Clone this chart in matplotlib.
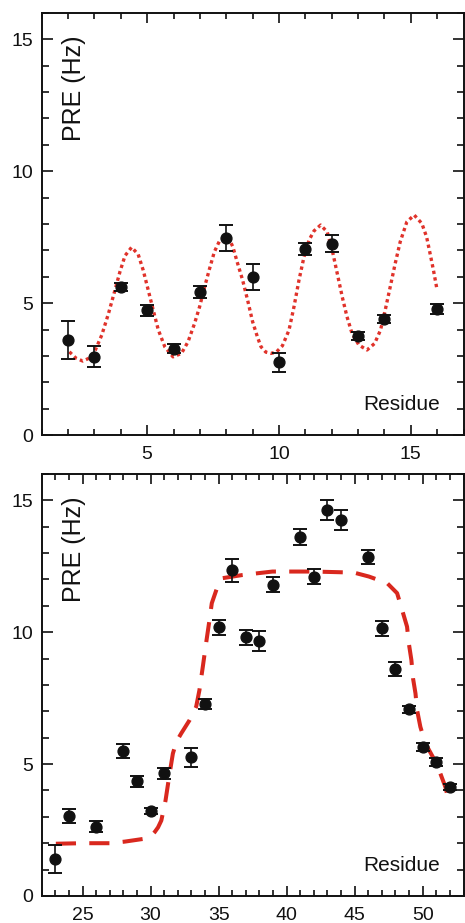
import matplotlib
matplotlib.use("Agg")
import matplotlib.pyplot as plt
from matplotlib.ticker import MultipleLocator

plt.rcParams['font.family'] = ['Liberation Sans', 'DejaVu Sans']

# ---- N-terminal helix (residues 2-16) ----
res_a = [2, 3, 4, 5, 6, 7, 8, 9, 10, 11, 12, 13, 14, 16]
pre_a = [3.61, 2.98, 5.60, 4.74, 3.28, 5.41, 7.48, 5.99, 2.76, 7.06, 7.26, 3.75, 4.39, 4.78]
err_a = [0.72, 0.40, 0.15, 0.21, 0.16, 0.23, 0.50, 0.48, 0.35, 0.23, 0.32, 0.16, 0.15, 0.18]

# periodic helix model curve
fit_a_x = [2.05, 2.30, 2.56, 2.80, 3.00, 3.28, 3.53, 3.78, 3.97, 4.16, 4.41, 4.66,
           4.85, 5.04, 5.23, 5.42, 5.67, 5.98, 6.30, 6.55, 6.80, 6.99, 7.18, 7.37,
           7.55, 7.74, 7.95, 8.10, 8.25, 8.43, 8.62, 8.81, 9.00, 9.19, 9.32, 9.50,
           9.69, 9.90, 10.13, 10.38, 10.57, 10.76, 10.95, 11.14, 11.33, 11.58, 11.83,
           12.02, 12.21, 12.40, 12.58, 12.77, 13.03, 13.34, 13.63, 13.85, 14.03,
           14.22, 14.41, 14.60, 14.85, 15.13, 15.42, 15.60, 15.73, 15.86, 15.98]
fit_a_y = [3.16, 2.92, 2.81, 2.92, 3.15, 3.80, 4.60, 5.50, 6.20, 6.80, 7.12, 6.85,
           6.25, 5.50, 4.74, 4.00, 3.35, 2.97, 3.10, 3.54, 4.24, 4.87, 5.62, 6.32,
           6.95, 7.35, 7.50, 7.45, 7.14, 6.51, 5.88, 5.12, 4.30, 3.70, 3.35, 3.15,
           3.10, 3.15, 3.39, 3.98, 4.87, 5.88, 6.76, 7.39, 7.74, 7.96, 7.70,
           7.01, 6.13, 5.24, 4.49, 3.86, 3.42, 3.23, 3.48, 3.98, 4.74,
           5.62, 6.51, 7.33, 8.08, 8.34, 8.02, 7.51, 6.89, 6.25, 5.60]

# ---- C-terminal region (residues 23-52) ----
res_b = [23, 24, 26, 28, 29, 30, 31, 33, 34, 35, 36, 37, 38, 39, 41, 42, 43, 44,
         46, 47, 48, 49, 50, 51, 52]
pre_b = [1.40, 3.03, 2.63, 5.49, 4.34, 3.21, 4.65, 5.26, 7.26, 10.19, 12.35, 9.81,
         9.65, 11.80, 13.60, 12.11, 14.63, 14.26, 12.86, 10.15, 8.61, 7.07, 5.66,
         5.07, 4.12]
err_b = [0.53, 0.27, 0.20, 0.26, 0.19, 0.12, 0.20, 0.36, 0.19, 0.28, 0.44, 0.28,
         0.38, 0.28, 0.31, 0.30, 0.38, 0.37, 0.26, 0.28, 0.26, 0.14, 0.15, 0.16, 0.12]

fit_b_x = [23.04, 25.0, 27.0, 28.1, 29.56, 30.0, 30.3, 30.55, 30.79, 31.1, 31.4,
           31.64, 31.9, 32.25, 32.86, 33.35, 33.59, 33.84, 34.08, 34.33, 34.50,
           34.9, 35.3, 36.77, 38.96, 42.0, 44.95, 46.05, 47.39, 48.12, 48.49,
           48.85, 48.98, 49.17, 49.29, 49.47, 49.59, 49.83, 50.2, 50.81, 51.3,
           51.67, 51.96]
fit_b_y = [1.98, 2.0, 2.0, 2.06, 2.17, 2.25, 2.42, 2.60, 2.86, 3.62, 4.64,
           5.40, 5.85, 6.16, 6.66, 7.17, 7.80, 8.69, 9.58, 10.46, 11.10,
           11.70, 12.05, 12.17, 12.30, 12.30, 12.26, 12.11, 11.86, 11.48, 10.84,
           10.21, 9.58, 8.94, 8.25, 7.68, 7.04, 6.41, 5.78, 5.21, 4.64,
           4.13, 3.50]

ylab = "PRE (Hz)"
xlab = "Residue"

fig = plt.figure(figsize=(4.65, 9.23), dpi=100)
ax_a = fig.add_axes([0.0897, 0.5284, 0.9071, 0.4578])
ax_b = fig.add_axes([0.0897, 0.0293, 0.9071, 0.4572])


def style_axes(ax, xlim, xmaj):
    ax.set_xlim(*xlim)
    ax.set_ylim(0, 16)
    ax.xaxis.set_major_locator(MultipleLocator(xmaj))
    ax.xaxis.set_minor_locator(MultipleLocator(1))
    ax.yaxis.set_major_locator(MultipleLocator(5))
    ax.yaxis.set_minor_locator(MultipleLocator(1))
    ax.tick_params(which='both', direction='in', top=True, right=True,
                   width=1.2, labelsize=14, colors='#111111')
    ax.tick_params(axis='y', which='major', length=8, pad=6)
    ax.tick_params(axis='y', which='minor', length=5)
    ax.tick_params(axis='x', which='major', length=7.5, pad=8)
    ax.tick_params(axis='x', which='minor', length=4.2)
    for s in ax.spines.values():
        s.set_linewidth(1.4)
        s.set_color('#111111')
    ax.text(0.077, 0.946, ylab, transform=ax.transAxes, rotation=90,
            ha='center', va='top', fontsize=18, color='#111111')
    ax.text(0.944, 0.060, xlab, transform=ax.transAxes,
            ha='right', va='baseline', fontsize=15, color='#111111')


err_kw = dict(fmt='o', color='#111111', ms=7.8, ecolor='#111111',
              elinewidth=1.2, capsize=5.2, capthick=1.4, zorder=3)

ax_a.plot(fit_a_x, fit_a_y, color='#e0322a', lw=2.4,
          linestyle=(0, (1, 1)), dash_capstyle='butt', zorder=2)
ax_a.errorbar(res_a, pre_a, yerr=err_a, **err_kw)
style_axes(ax_a, (1, 17), 5)

ax_b.plot(fit_b_x, fit_b_y, color='#d9281e', lw=2.9,
          linestyle=(0, (5, 3.3)), dash_capstyle='butt', zorder=2)
ax_b.errorbar(res_b, pre_b, yerr=err_b, **err_kw)
style_axes(ax_b, (22, 53), 5)

fig.savefig("out.png", dpi=100)
